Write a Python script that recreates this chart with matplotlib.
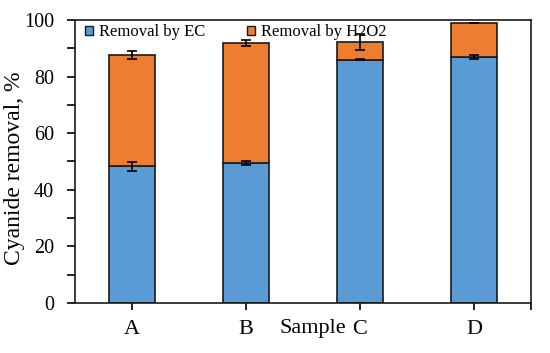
import matplotlib
matplotlib.use("Agg")
import matplotlib.pyplot as plt
import numpy as np

samples = ["A", "B", "C", "D"]
ec_removal = [48.3, 49.4, 86.0, 86.9]
total_removal = [87.5, 91.8, 92.3, 99.0]
h2o2_removal = [t - e for t, e in zip(total_removal, ec_removal)]
ec_err = [1.6, 0.6, 0.3, 0.8]
total_err = [1.4, 1.0, 2.8, 0.0]

plt.rcParams['font.family'] = ['Liberation Serif', 'DejaVu Serif']

fig = plt.figure(figsize=(5.5, 3.53), dpi=100)
ax = fig.add_axes([75/550, 50/353, 456/550, 283/353])

x = np.arange(len(samples))
w = 0.4
blue = '#5B9BD5'
orange = '#ED7D31'
ax.bar(x, ec_removal, w, color=blue, edgecolor='#1a1a1a', linewidth=1.2, label='Removal by EC', zorder=2)
ax.bar(x, h2o2_removal, w, bottom=ec_removal, color=orange, edgecolor='#1a1a1a', linewidth=1.2,
       label='Removal by H2O2', zorder=2)
ax.errorbar(x, ec_removal, yerr=ec_err, fmt='none', ecolor='black', elinewidth=1.2, capsize=3.5, capthick=1.2, zorder=3)
ax.errorbar(x, total_removal, yerr=total_err, fmt='none', ecolor='black', elinewidth=1.2, capsize=3.5, capthick=1.2, zorder=3)

ax.set_xlim(-0.5, 3.5)
ax.set_ylim(0, 100)
ax.set_yticks(np.arange(0, 101, 20))
ax.set_yticks(np.arange(10, 100, 20), minor=True)
ax.set_xticks(x)
ax.set_xticklabels(samples, fontsize=16)
ax.set_xticks([3.5], minor=True)
ax.tick_params(axis='y', which='both', direction='out', length=6, width=1.2, labelsize=14.5, pad=9, right=False)
ax.tick_params(axis='x', which='both', direction='out', length=5, width=1.2, pad=7, top=False)
for s in ax.spines.values():
    s.set_linewidth(1.2)
    s.set_color('#1a1a1a')

ax.set_ylabel('Cyanide removal, %', fontsize=17)
ax.yaxis.set_label_coords((15-75)/456, (303-168)/283)
ax.yaxis.label.set_va('center')
ax.set_xlabel('Sample', fontsize=16)
ax.xaxis.set_label_coords((313-75)/456, (303-328)/283)
ax.xaxis.label.set_va('center')

leg = ax.legend(loc='upper left', bbox_to_anchor=(0.0, 1.02), ncol=2, frameon=False, fontsize=12,
                handlelength=0.5, handleheight=0.5, handletextpad=0.35, columnspacing=2.5,
                borderaxespad=0.2)
for h in leg.legend_handles:
    h.set_edgecolor('#1a1a1a')
    h.set_linewidth(1.0)

fig.savefig('out.png', dpi=100)
